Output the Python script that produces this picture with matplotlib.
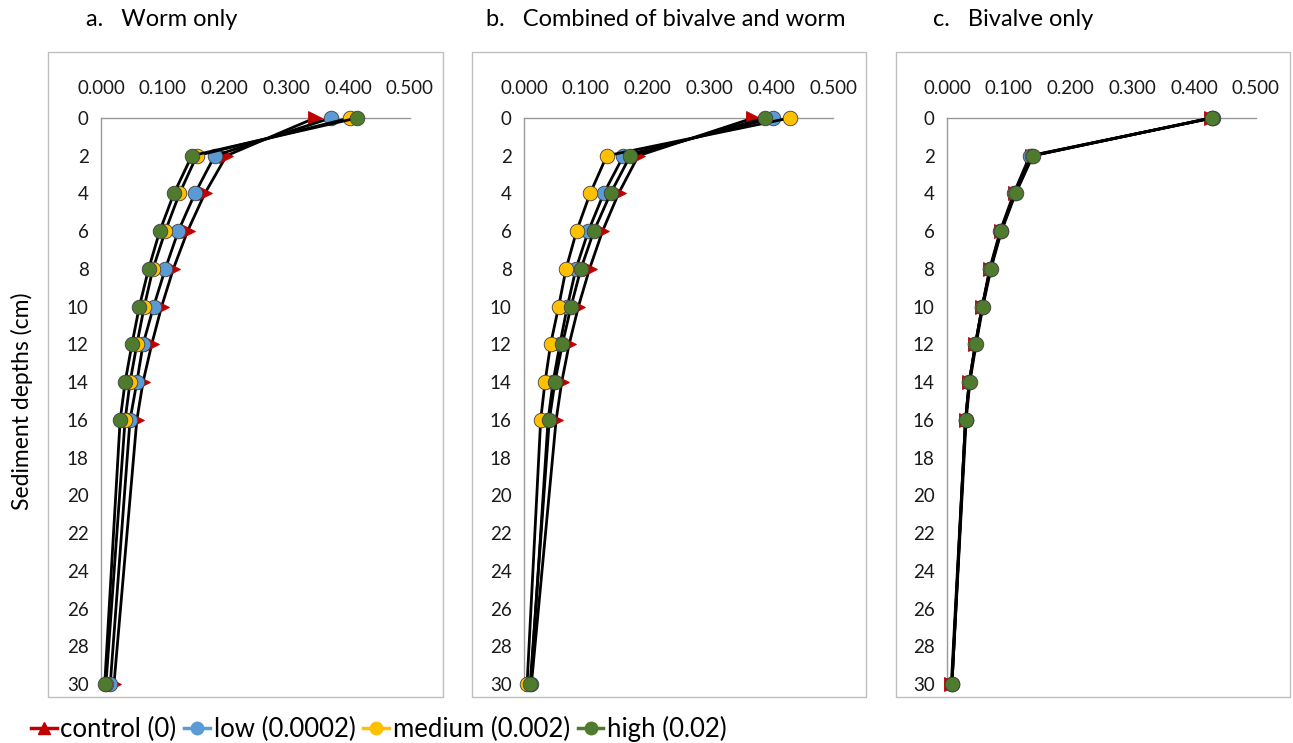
import matplotlib
matplotlib.use("Agg")
import matplotlib.pyplot as plt
from matplotlib.lines import Line2D
from matplotlib.patches import Rectangle

plt.rcParams["font.family"] = ["Lato", "DejaVu Sans"]

# sediment depth (cm)
depths = [0, 2, 4, 6, 8, 10, 12, 14, 16, 30]

# a. Worm only
worm_control = [0.346, 0.203, 0.168, 0.140, 0.117, 0.098, 0.082, 0.068, 0.058, 0.021]
worm_low = [0.372, 0.184, 0.152, 0.125, 0.104, 0.085, 0.068, 0.058, 0.047, 0.015]
worm_medium = [0.403, 0.155, 0.127, 0.104, 0.084, 0.070, 0.058, 0.047, 0.039, 0.008]
worm_high = [0.414, 0.147, 0.118, 0.095, 0.077, 0.062, 0.050, 0.039, 0.031, 0.006]

# b. Combined of bivalve and worm
comb_control = [0.371, 0.185, 0.153, 0.127, 0.106, 0.088, 0.073, 0.061, 0.052, 0.012]
comb_low = [0.403, 0.161, 0.129, 0.104, 0.084, 0.070, 0.058, 0.047, 0.039, 0.011]
comb_medium = [0.430, 0.134, 0.107, 0.085, 0.068, 0.056, 0.043, 0.034, 0.027, 0.005]
comb_high = [0.390, 0.172, 0.140, 0.113, 0.092, 0.076, 0.062, 0.050, 0.041, 0.010]

# c. Bivalve only
biv_control = [0.427, 0.138, 0.110, 0.087, 0.070, 0.057, 0.046, 0.036, 0.030, 0.007]
biv_low = [0.430, 0.134, 0.108, 0.086, 0.069, 0.057, 0.046, 0.036, 0.030, 0.008]
biv_medium = [0.428, 0.137, 0.110, 0.087, 0.070, 0.057, 0.046, 0.036, 0.030, 0.008]
biv_high = [0.428, 0.139, 0.111, 0.088, 0.071, 0.058, 0.047, 0.037, 0.031, 0.008]

titles = ["a.   Worm only", "b.   Combined of bivalve and worm", "c.   Bivalve only"]
series_names = ["control (0)", "low (0.0002)", "medium (0.002)", "high (0.02)"]
colors = ["#C00000", "#5B9BD5", "#FFC000", "#4F7B2E"]
markers = [">", "o", "o", "o"]
xticks = [0.0, 0.1, 0.2, 0.3, 0.4, 0.5]
yticks = list(range(0, 31, 2))

panels = [
    [worm_control, worm_low, worm_medium, worm_high],
    [comb_control, comb_low, comb_medium, comb_high],
    [biv_control, biv_low, biv_medium, biv_high],
]

W, H = 1293, 743
fig = plt.figure(figsize=(W / 100, H / 100), dpi=100)

# plot areas in pixels (left, right) ; y from 118 (depth 0) to 684 (depth 30)
ax_x = [(101, 410), (524, 833), (947, 1256)]
box_x = [(48, 443), (472, 866), (896, 1290)]
title_x = [86, 486, 933]
top, bottom = 118, 684

for i, (series, (l, r)) in enumerate(zip(panels, ax_x)):
    ax = fig.add_axes([l / W, 1 - bottom / H, (r - l) / W, (bottom - top) / H])
    ax.set_facecolor("none")
    for vals, c, m in zip(series, colors, markers):
        ax.plot(vals, depths, color="black", lw=2.0, marker=m, ms=10.5 if m == "o" else 10,
                mfc=c, mec="#404040" if m == "o" else c, mew=0.6, clip_on=False, zorder=3)
    ax.set_xlim(0, 0.5)
    ax.set_ylim(30, 0)
    ax.set_xticks(xticks)
    ax.set_xticklabels([f"{v:.3f}" for v in xticks])
    ax.set_yticks(yticks)
    ax.xaxis.tick_top()
    ax.tick_params(axis="x", length=0, pad=15, labelsize=13.5, colors="#1a1a1a")
    ax.tick_params(axis="y", length=0, pad=9, labelsize=13.5, colors="#1a1a1a")
    for s in ["right", "bottom"]:
        ax.spines[s].set_visible(False)
    for s in ["left", "top"]:
        ax.spines[s].set_color("#999999")
        ax.spines[s].set_linewidth(1.0)
    if i == 0:
        ax.set_ylabel("Sediment depths (cm)", fontsize=16.5, labelpad=24)

    bl, br = box_x[i]
    fig.add_artist(Rectangle((bl / W, 1 - 697 / H), (br - bl) / W, (697 - 52) / H,
                             transform=fig.transFigure, fill=False,
                             edgecolor="#BFBFBF", lw=1.0))
    fig.text(title_x[i] / W, 1 - 20 / H, titles[i], fontsize=17, va="center", ha="left")

handles = [Line2D([], [], color=c, lw=2.5, marker="^" if m == ">" else "o", ms=9,
                  mfc=c, mec=c) for c, m in zip(colors, markers)]
fig.legend(handles, series_names, loc="lower left", bbox_to_anchor=(0.006, -0.03),
           ncol=4, frameon=False, fontsize=18.5, handlelength=1.0, handletextpad=0.15,
           columnspacing=0.3)

fig.savefig("out.png", dpi=100)
